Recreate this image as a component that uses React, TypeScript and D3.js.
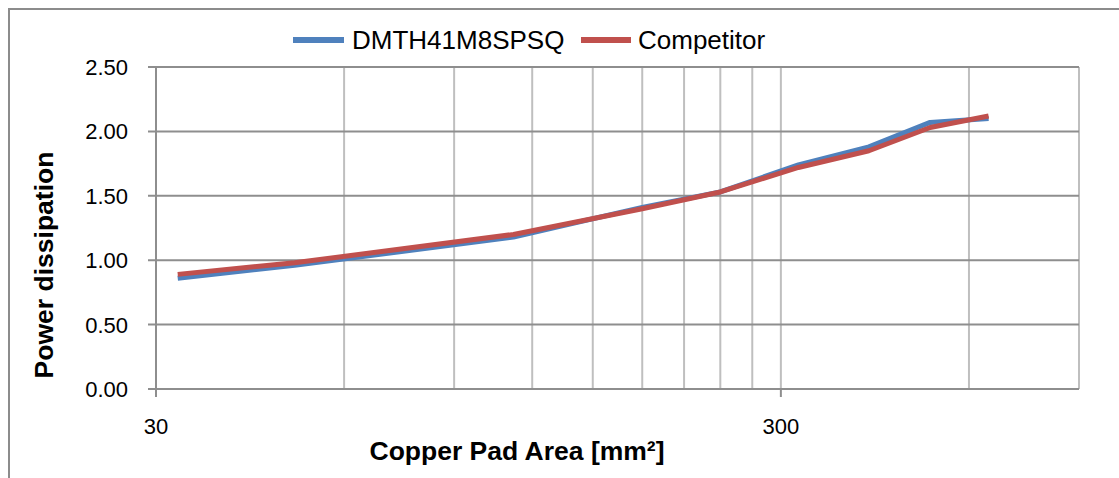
import React from "react";
import * as d3 from "d3";

const areas = [32.5, 50, 112, 180, 240, 320, 415, 520, 645];
const dmthValues = [0.86, 0.96, 1.18, 1.41, 1.53, 1.74, 1.88, 2.07, 2.1];
const competitorValues = [0.89, 0.98, 1.2, 1.4, 1.53, 1.72, 1.85, 2.03, 2.12];
const seriesNames = ["DMTH41M8SPSQ", "Competitor"];
const yTicks = [0, 0.5, 1, 1.5, 2, 2.5];
const xLabelTicks = [30, 300];
const xGridValues = [30, 60, 90, 120, 150, 180, 210, 240, 270, 300, 600, 900];

const W = 1119;
const H = 478;
const left = 156;
const right = 1079;
const top = 67;
const bottom = 389;
const font = "Arial, 'Liberation Sans', sans-serif";

export default function App() {
  const x = d3.scaleLog().domain([30, 900]).range([left, right]);
  const y = d3.scaleLinear().domain([0, 2.5]).range([bottom, top]);
  const line = d3
    .line<number>()
    .x((_, i) => x(areas[i]))
    .y((d) => y(d));
  const colors = ["#4F81BD", "#C0504D"];
  const series = [dmthValues, competitorValues];
  const legend = [
    { x1: 293, x2: 344, tx: 352 },
    { x1: 581, x2: 631, tx: 638 },
  ];
  return (
    <svg
      width={W}
      height={H}
      style={{ position: "absolute", left: 0, top: 0, display: "block", background: "#fff" }}
    >
      <rect x={9} y={9} width={1140} height={500} fill="#fff" stroke="#8C8C8C" strokeWidth={2} />
      {xGridValues.map((v) => (
        <line key={"vx" + v} x1={x(v)} x2={x(v)} y1={top} y2={bottom} stroke="#BFBFBF" strokeWidth={2} />
      ))}
      {yTicks.map((v) => (
        <line key={"hy" + v} x1={left - 8} x2={right} y1={y(v)} y2={y(v)} stroke="#8E8E8E" strokeWidth={2} />
      ))}
      <line x1={left} x2={left} y1={top} y2={bottom} stroke="#8E8E8E" strokeWidth={2} />
      {xLabelTicks.map((v) => (
        <line key={"xt" + v} x1={x(v)} x2={x(v)} y1={bottom} y2={bottom + 8} stroke="#8E8E8E" strokeWidth={2} />
      ))}
      {yTicks.map((v) => (
        <text key={"yl" + v} x={128} y={y(v) + 8} textAnchor="end" fontFamily={font} fontSize={22} fill="#000">
          {v.toFixed(2)}
        </text>
      ))}
      {xLabelTicks.map((v) => (
        <text key={"xl" + v} x={x(v)} y={434} textAnchor="middle" fontFamily={font} fontSize={22} fill="#000">
          {String(v)}
        </text>
      ))}
      {series.map((s, i) => (
        <path key={"s" + i} d={line(s) || ""} fill="none" stroke={colors[i]} strokeWidth={5} strokeLinejoin="round" />
      ))}
      {seriesNames.map((n, i) => (
        <g key={"lg" + i}>
          <line x1={legend[i].x1} x2={legend[i].x2} y1={40} y2={40} stroke={colors[i]} strokeWidth={6} />
          <text x={legend[i].tx} y={49} fontFamily={font} fontSize={26} fill="#000">
            {n}
          </text>
        </g>
      ))}
      <text x={517} y={460} textAnchor="middle" fontFamily={font} fontSize={26.5} fontWeight="bold" fill="#000">
        Copper Pad Area [mm²]
      </text>
      <text
        transform="translate(53,265) rotate(-90)"
        textAnchor="middle"
        fontFamily={font}
        fontSize={26.5}
        fontWeight="bold"
        fill="#000"
      >
        Power dissipation
      </text>
    </svg>
  );
}
